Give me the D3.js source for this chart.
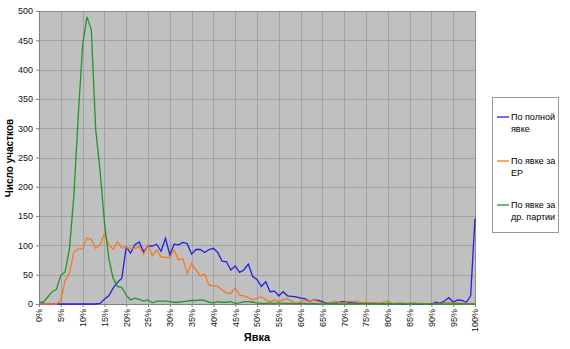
<!DOCTYPE html>
<html>
<head>
<meta charset="utf-8">
<script src="https://cdn.jsdelivr.net/npm/d3@7"></script>
<style>
  body { margin: 0; background: #fff; }
  text { font-family: "Liberation Sans", Arial, sans-serif; }
</style>
</head>
<body>
<script>
// turnout in percent, 0..100
var turnout = d3.range(0, 101);

// full turnout
var fullTurnout = [
  0,0,0,0,0,0,0,0,0,0, 0,0,0,0,1,8,14,27,37,44,
  97,87,101,106,89,99,99,102,90,112, 84,102,101,105,103,85,93,93,88,93,
  95,88,73,72,58,65,54,58,68,47, 42,30,38,21,22,14,21,14,13,12,
  10,9,4,7,6,4,1,2,1,3, 4,2,2,1,1,1,1,1,1,0,
  1,0,1,0,0,1,0,0,0,0, 0,3,1,5,11,3,7,6,3,14,
  146
];

// turnout for ER
var erTurnout = [
  0,0,0,0,0,6,40,53,89,94, 94,113,110,95,101,120,101,93,106,96,
  96,95,95,98,85,101,82,92,80,80, 78,92,75,77,52,69,58,48,51,32,
  31,30,24,19,18,28,15,14,11,7, 10,12,7,4,7,4,7,9,5,1,
  4,7,4,7,4,2,1,3,5,2, 2,5,4,5,2,3,2,2,1,3,
  5,1,1,2,1,1,2,1,1,0, 1,1,0,2,3,1,2,1,1,0,
  0
];

// turnout for other parties
var otherTurnout = [
  3,3,12,21,25,49,55,95,185,320, 442,490,468,298,228,140,78,44,30,28,
  15,7,10,8,5,7,2,5,5,5, 4,3,3,4,5,6,6,7,6,3,
  2,4,3,3,4,1,2,4,4,3, 2,1,1,2,1,2,1,1,1,0,
  1,1,0,1,0,0,1,0,0,0, 0,0,0,0,1,0,0,0,0,0,
  1,0,0,0,0,0,0,0,0,0, 0,0,0,0,0,0,0,0,0,0,
  0
];

var xTicks = d3.range(0, 101, 5);
var yTicks = d3.range(0, 501, 50);

var seriesNames = [["По полной", "явке"], ["По явке за", "ЕР"], ["По явке за", "др. партии"]];
var seriesColors = ["#1f1fe6", "#f57a22", "#22952a"];
var seriesData = [fullTurnout, erTurnout, otherTurnout];

var width = 570, height = 349;
var plotLeft = 39, plotRight = 475, plotTop = 11, plotBottom = 304;

var svg = d3.select("body").append("svg")
    .attr("width", width)
    .attr("height", height);

var x = d3.scaleLinear().domain([0, 100]).range([plotLeft, plotRight]);
var y = d3.scaleLinear().domain([0, 500]).range([plotBottom, plotTop]);

// plot background
svg.append("rect")
    .attr("x", plotLeft).attr("y", plotTop)
    .attr("width", plotRight - plotLeft).attr("height", plotBottom - plotTop)
    .attr("fill", "#c0c0c0");

// gridlines
svg.append("g").selectAll("line")
    .data(yTicks.slice(1))
    .enter().append("line")
    .attr("x1", plotLeft).attr("x2", plotRight)
    .attr("y1", function(d) { return Math.round(y(d)) + 0.5; })
    .attr("y2", function(d) { return Math.round(y(d)) + 0.5; })
    .attr("stroke", "#a2a2a2");

svg.append("g").selectAll("line")
    .data(xTicks.slice(1))
    .enter().append("line")
    .attr("y1", plotTop).attr("y2", plotBottom)
    .attr("x1", function(d) { return Math.round(x(d)) + 0.5; })
    .attr("x2", function(d) { return Math.round(x(d)) + 0.5; })
    .attr("stroke", "#a2a2a2");

svg.append("rect")
    .attr("x", plotLeft + 0.5).attr("y", plotTop + 0.5)
    .attr("width", plotRight - plotLeft).attr("height", plotBottom - plotTop)
    .attr("fill", "none")
    .attr("stroke", "#8c8c8c");

// axes
var yAxis = d3.axisLeft(y).tickValues(yTicks).tickSize(3).tickPadding(3);
var gy = svg.append("g")
    .attr("transform", "translate(" + plotLeft + ",0)")
    .call(yAxis);
gy.select(".domain").attr("stroke", "#808080");
gy.selectAll(".tick line").attr("stroke", "#808080");
gy.selectAll("text")
    .attr("font-size", "9px")
    .attr("fill", "#111")
    .style("font-family", "Liberation Sans, Arial, sans-serif");

var xAxis = d3.axisBottom(x).tickValues(xTicks).tickSize(3)
    .tickFormat(function(d) { return d + "%"; });
var gx = svg.append("g")
    .attr("transform", "translate(0," + plotBottom + ")")
    .call(xAxis);
gx.select(".domain").attr("stroke", "#808080");
gx.selectAll(".tick line").attr("stroke", "#808080");
gx.selectAll("text")
    .attr("font-size", "9px")
    .attr("fill", "#111")
    .attr("transform", "rotate(-90)")
    .attr("text-anchor", "end")
    .attr("x", -5)
    .attr("y", 0)
    .attr("dy", "0.32em")
    .style("font-family", "Liberation Sans, Arial, sans-serif");

// lines
var line = d3.line()
    .x(function(d, i) { return x(turnout[i]); })
    .y(function(d) { return y(d); });

svg.append("g").selectAll("path")
    .data(seriesData)
    .enter().append("path")
    .attr("d", line)
    .attr("fill", "none")
    .attr("stroke", function(d, i) { return seriesColors[i]; })
    .attr("stroke-width", 1.3);

// axis titles
svg.append("text")
    .attr("transform", "translate(13,158) rotate(-90)")
    .attr("text-anchor", "middle")
    .attr("font-size", "10px")
    .attr("font-weight", "bold")
    .text("Число участков");

svg.append("text")
    .attr("x", 257).attr("y", 341)
    .attr("text-anchor", "middle")
    .attr("font-size", "11px")
    .attr("font-weight", "bold")
    .text("Явка");

// legend
var legend = svg.append("g");
legend.append("rect")
    .attr("x", 492.5).attr("y", 97.5)
    .attr("width", 66).attr("height", 135)
    .attr("fill", "#fff")
    .attr("stroke", "#999");

var item = legend.selectAll("g.item")
    .data(seriesNames)
    .enter().append("g")
    .attr("class", "item")
    .attr("transform", function(d, i) { return "translate(0," + (117 + i * 44) + ")"; });

item.append("line")
    .attr("x1", 497).attr("x2", 509)
    .attr("y1", 0).attr("y2", 0)
    .attr("stroke", function(d, i) { return seriesColors[i]; })
    .attr("stroke-width", 1.3);

item.selectAll("text")
    .data(function(d) { return d; })
    .enter().append("text")
    .attr("x", 511)
    .attr("y", function(d, j) { return 3 + j * 12; })
    .attr("font-size", "9px")
    .text(function(d) { return d; });
</script>
</body>
</html>
